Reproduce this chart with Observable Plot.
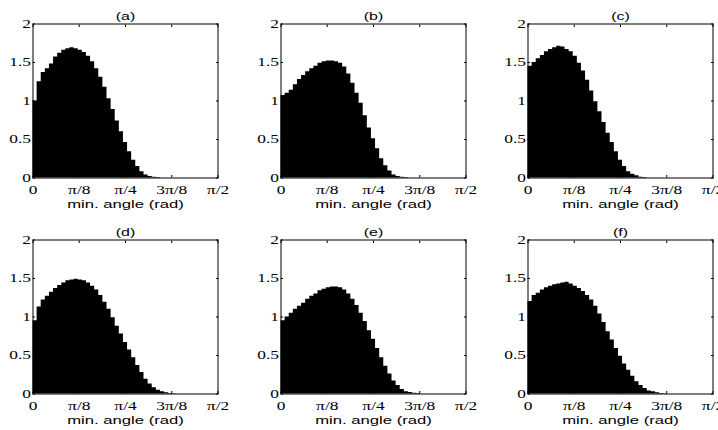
<!DOCTYPE html>
<html><head><meta charset="utf-8">
<script src="https://cdn.jsdelivr.net/npm/d3@7"></script>
<script src="https://cdn.jsdelivr.net/npm/@observablehq/plot@0.6"></script>
<style>
html,body{margin:0;padding:0;background:#fff;overflow:hidden;}
#wrap{position:relative;width:718px;height:430px;overflow:hidden;background:#fff;}
#wrap svg{position:absolute;}
</style></head><body><div id="wrap"></div>
<script>
// ---- data (densities per 2-degree bin, bins from 0 to 90 degrees = 0..pi/2) ----
const panelTitles = ["(a)", "(b)", "(c)", "(d)", "(e)", "(f)"];
const binEdgesDeg = [0,2,4,6,8,10,12,14,16,18,20,22,24,26,28,30,32,34,36,38,40,42,44,46,48,50,52,54,56,58,60,62,64,66,68,70,72,74,76,78,80,82,84,86,88,90];
const densA = [1.00,1.25,1.37,1.42,1.48,1.57,1.62,1.66,1.68,1.69,1.68,1.66,1.63,1.58,1.51,1.42,1.31,1.18,1.03,0.89,0.74,0.60,0.46,0.34,0.23,0.15,0.08,0.04,0.02,0.01,0.005,0,0,0,0,0,0,0,0,0,0,0,0,0,0];
const densB = [1.07,1.10,1.14,1.21,1.28,1.33,1.38,1.42,1.45,1.49,1.51,1.52,1.52,1.51,1.49,1.44,1.35,1.23,1.10,0.97,0.81,0.65,0.51,0.38,0.25,0.16,0.09,0.04,0.02,0.01,0.005,0,0,0,0,0,0,0,0,0,0,0,0,0,0];
const densC = [1.45,1.50,1.55,1.59,1.64,1.67,1.69,1.71,1.70,1.67,1.64,1.58,1.49,1.39,1.27,1.13,0.99,0.86,0.72,0.58,0.46,0.34,0.23,0.15,0.08,0.05,0.03,0.01,0.005,0,0,0,0,0,0,0,0,0,0,0,0,0,0,0,0];
const densD = [0.95,1.13,1.22,1.27,1.32,1.37,1.41,1.44,1.47,1.48,1.49,1.48,1.47,1.44,1.40,1.35,1.28,1.19,1.10,0.99,0.88,0.78,0.67,0.57,0.47,0.37,0.28,0.19,0.13,0.08,0.05,0.03,0.015,0.008,0.003,0,0,0,0,0,0,0,0,0,0];
const densE = [0.95,1.00,1.05,1.10,1.14,1.18,1.23,1.27,1.30,1.34,1.36,1.38,1.39,1.39,1.38,1.35,1.30,1.23,1.15,1.05,0.94,0.82,0.71,0.59,0.47,0.36,0.26,0.17,0.11,0.06,0.03,0.02,0.01,0.005,0,0,0,0,0,0,0,0,0,0,0];
const densF = [1.20,1.28,1.31,1.35,1.38,1.40,1.42,1.43,1.44,1.45,1.43,1.40,1.37,1.33,1.28,1.22,1.14,1.04,0.93,0.81,0.70,0.59,0.49,0.39,0.31,0.23,0.16,0.11,0.07,0.04,0.03,0.015,0.008,0.004,0,0,0,0,0,0,0,0,0,0,0];
const xTickValues = [0, 22.5, 45, 67.5, 90];
const xTickLabels = ["0", "π/8", "π/4", "3π/8", "π/2"];
const yTickValues = [0, 0.5, 1, 1.5, 2];
const yTickLabels = ["0", "0.5", "1", "1.5", "2"];
const xLabel = "min. angle (rad)";

const series = [densA, densB, densC, densD, densE, densF];
const colLeft = [0, 248, 495];
const rowTop = [0, 215.5];
const wrap = document.getElementById("wrap");
const STRETCH = 1.45;

series.forEach((vals, k) => {
  const col = k % 3, row = Math.floor(k / 3);
  const data = binEdgesDeg.map((e, i) => ({x: e, y: i < vals.length ? vals[i] : vals[vals.length - 1]}));
  const svg = Plot.plot({
    width: 240, height: 215,
    marginLeft: 32.5, marginRight: 22.5, marginTop: 23.5, marginBottom: 37.5,
    style: {background: "transparent", fontFamily: "'Liberation Serif', 'Times New Roman', serif", fontSize: "12px", color: "black", overflow: "visible"},
    x: {domain: [0, 90]},
    y: {domain: [0, 2]},
    marks: [
      Plot.areaY(data, {x: "x", y: "y", curve: "step-after", fill: "black"}),
      Plot.frame({stroke: "black", strokeWidth: 1}),
      Plot.axisX({anchor: "bottom", ticks: xTickValues, tickSize: -2.5, tickPadding: 10, label: null,
        tickFormat: d => xTickLabels[xTickValues.indexOf(d)]}),
      Plot.axisX({anchor: "top", ticks: xTickValues, tickSize: -2.5, label: null, tickFormat: () => ""}),
      Plot.axisY({anchor: "left", ticks: yTickValues, tickSize: -2.5, tickPadding: 4.5, label: null,
        tickFormat: d => yTickLabels[yTickValues.indexOf(d)]}),
      Plot.axisY({anchor: "right", ticks: yTickValues, tickSize: -2.5, label: null, tickFormat: () => ""}),
      Plot.text([panelTitles[k]], {frameAnchor: "top", dy: -12, fontFamily: "'Liberation Sans', Arial, sans-serif", fontSize: 11}),
      Plot.text([xLabel], {frameAnchor: "bottom", dy: 29.5, fontFamily: "'Liberation Sans', Arial, sans-serif", fontSize: 11.5})
    ]
  });
  svg.style.left = colLeft[col] + "px";
  svg.style.top = rowTop[row] + "px";
  svg.querySelectorAll("text").forEach(t => {
    const tr = t.getAttribute("transform") || "";
    t.setAttribute("transform", tr + ` scale(${STRETCH},1)`);
  });
  wrap.appendChild(svg);
});
</script>
</body></html>
